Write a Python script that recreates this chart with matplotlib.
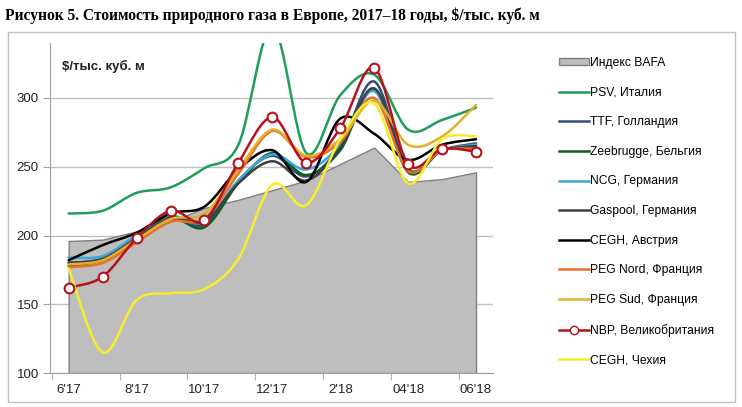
import numpy as np
import matplotlib
matplotlib.use('Agg')
import matplotlib.pyplot as plt
from matplotlib.path import Path
from matplotlib.patches import PathPatch, Rectangle, Patch
from matplotlib.lines import Line2D

months = np.arange(13)
tick_labels = ["6'17", "8'17", "10'17", "12'17", "2'18", "04'18", "06'18"]

bafa = [196, 197, 203, 210, 220, 226, 233, 240, 252, 264, 239, 241, 246]
psv = [216, 218, 231, 235, 249, 266, 352, 260, 302, 317, 277, 284, 293]
ttf = [180, 183, 196, 212, 208, 240, 258, 243, 265, 312, 248, 262, 267]
zeebrugge = [178, 182, 196, 213, 206, 238, 260, 244, 262, 306, 246, 262, 265]
ncg = [184, 185, 200, 214, 210, 240, 259, 248, 266, 305, 248, 262, 266]
gaspool = [180, 183, 198, 213, 210, 238, 254, 240, 264, 307, 248, 262, 265]
cegh_at = [182, 193, 202, 216, 221, 248, 262, 239, 285, 274, 255, 266, 270]
peg_nord = [177, 180, 195, 210, 212, 245, 276, 257, 268, 300, 247, 262, 263]
peg_sud = [179, 182, 197, 212, 216, 248, 277, 258, 270, 298, 266, 272, 295]
nbp = [162, 170, 198, 218, 211, 253, 286, 253, 278, 322, 252, 263, 261]
cegh_cz = [176, 115, 153, 158, 161, 183, 237, 222, 270, 296, 238, 270, 272]

series = [
    ("PSV, Италия", psv, '#1f9e57'),
    ("TTF, Голландия", ttf, '#2e4e7e'),
    ("Zeebrugge, Бельгия", zeebrugge, '#0e5e1e'),
    ("NCG, Германия", ncg, '#3aa8dc'),
    ("Gaspool, Германия", gaspool, '#404040'),
    ("CEGH, Австрия", cegh_at, '#000000'),
    ("PEG Nord, Франция", peg_nord, '#e8702a'),
    ("PEG Sud, Франция", peg_sud, '#e3b02b'),
    ("NBP, Великобритания", nbp, '#b5121b'),
    ("CEGH, Чехия", cegh_cz, '#f4ee2c'),
]


def smooth_path(x, y):
    # Catmull-Rom through the points, as cubic bezier segments
    pts = np.column_stack([x, y]).astype(float)
    ext = np.vstack([pts[0], pts, pts[-1]])
    verts = [pts[0]]
    codes = [Path.MOVETO]
    for i in range(len(pts) - 1):
        p0, p1, p2, p3 = ext[i], ext[i + 1], ext[i + 2], ext[i + 3]
        c1 = p1 + (p2 - p0) / 6.0
        c2 = p2 - (p3 - p1) / 6.0
        verts += [c1, c2, p2]
        codes += [Path.CURVE4] * 3
    return Path(verts, codes)


fig = plt.figure(figsize=(7.42, 4.07), dpi=100)
fig.patches.append(Rectangle((8 / 742, 1 - 402 / 407), 727 / 742, 370 / 407,
                             transform=fig.transFigure, fill=False,
                             edgecolor='#c0c0c0', lw=1))
fig.text(5 / 742, 1 - 16 / 407, "Рисунок 5. Стоимость природного газа в Европе, 2017–18 годы, $/тыс. куб. м",
         family='Liberation Serif', weight='bold', fontsize=11.2, va='center', ha='left')

ax = fig.add_axes([50 / 742, 1 - 373 / 407, 443 / 742, 330 / 407])
ax.set_xlim(-0.55, 12.5)
ax.set_ylim(100, 340)

ax.fill_between(months, 100, bafa, facecolor='#bebebe', edgecolor='#808080', lw=1, zorder=2)

for label, vals, col in series:
    ax.add_patch(PathPatch(smooth_path(months, vals), fill=False, edgecolor=col,
                           lw=1.8, zorder=3, capstyle='round', joinstyle='round'))
ax.plot(months, nbp, 'o', ms=7, mfc='white', mec='#b5121b', mew=1.5, zorder=4)

ax.set_yticks([100, 150, 200, 250, 300])
ax.yaxis.grid(True, color='#bfbfbf', lw=1, zorder=0)
ax.set_axisbelow(True)
ax.set_xticks(months[::2])
ax.set_xticklabels(tick_labels)
ax.set_xticks(np.arange(-0.5, 12.5, 2), minor=True)
ax.tick_params(axis='x', which='major', length=0, pad=8)
ax.tick_params(axis='x', which='minor', length=5, color='#a0a0a0')
ax.tick_params(axis='y', length=5, color='#a0a0a0', pad=3)
ax.tick_params(labelsize=9.5, labelcolor='#222222')
for lab in ax.get_xticklabels() + ax.get_yticklabels():
    lab.set_family('Liberation Sans')
for s in ['top', 'right']:
    ax.spines[s].set_visible(False)
for s in ['left', 'bottom']:
    ax.spines[s].set_color('#a0a0a0')
ax.text(0.028, 0.93, "$/тыс. куб. м", transform=ax.transAxes, fontsize=9.5,
        weight='bold', family='Liberation Sans', color='#222222', va='center')

handles = [Patch(facecolor='#bebebe', edgecolor='#808080', lw=1)]
labels = ["Индекс BAFA"]
for label, vals, col in series:
    if label.startswith("NBP"):
        handles.append(Line2D([], [], color=col, lw=1.8, marker='o', ms=6,
                              mfc='white', mec=col))
    else:
        handles.append(Line2D([], [], color=col, lw=1.8))
    labels.append(label)
fig.legend(handles, labels, loc='upper left', bbox_to_anchor=(548 / 742, 1 - 46 / 407),
           frameon=False, labelspacing=1.46, handlelength=2.5,
           handletextpad=0.1, handleheight=0.5, prop={'family': 'Liberation Sans', 'size': 8.7})

fig.savefig('out.png', dpi=100)
